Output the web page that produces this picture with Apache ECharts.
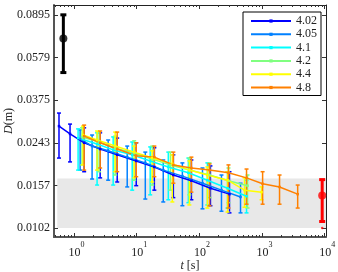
<!DOCTYPE html>
<html><head><meta charset="utf-8">
<script src="https://cdn.jsdelivr.net/npm/echarts@6/dist/echarts.min.js"></script>
<style>html,body{margin:0;padding:0;background:#fff}#c{width:338px;height:272px}</style>
</head><body><div id="c"></div>
<script>
// ---- data ----
const seriesNames = ['4.02', '4.05', '4.1', '4.2', '4.4', '4.8'];
const seriesColors = ['#0000ff', '#0080ff', '#00ffff', '#80ff80', '#ffff00', '#ff8000'];

const t_402  = [0.575, 0.863, 1.45, 2.61, 4.88, 9.82, 19.1, 38.4, 74.5, 150, 302];
const D_402  = [0.0288, 0.0266, 0.0243, 0.0228, 0.0215, 0.0202, 0.0190, 0.0175, 0.0165, 0.0153, 0.0144];
const lo_402 = [0.0208, 0.0200, 0.0181, 0.0170, 0.0163, 0.0157, 0.0150, 0.0139, 0.0136, 0.0128, 0.0119];
const hi_402 = [0.0329, 0.0294, 0.0283, 0.0269, 0.0255, 0.0243, 0.0231, 0.0215, 0.0204, 0.0192, 0.0181];

const t_405  = [1.25, 1.94, 3.50, 7.05, 13.7, 26.5, 53.5, 112, 225, 453];
const D_405  = [0.0253, 0.0235, 0.0224, 0.0210, 0.0198, 0.0184, 0.0173, 0.0161, 0.0150, 0.0140];
const lo_405 = [0.0184, 0.0168, 0.0166, 0.0155, 0.0137, 0.0133, 0.0128, 0.0124, 0.0121, 0.0119];
const hi_405 = [0.0277, 0.0263, 0.0250, 0.0235, 0.0221, 0.0204, 0.0198, 0.0188, 0.0175, 0.0161];

const t_41  = [1.16, 2.33, 4.21, 8.47, 16.4, 31.9, 66.7, 134, 281, 565];
const D_41  = [0.0255, 0.0240, 0.0226, 0.0215, 0.0202, 0.0190, 0.0179, 0.0166, 0.0153, 0.0141];
const lo_41 = [0.0184, 0.0158, 0.0158, 0.0150, 0.0143, 0.0136, 0.0132, 0.0129, 0.0125, 0.0119];
const hi_41 = [0.0280, 0.0269, 0.0258, 0.0245, 0.0233, 0.0221, 0.0208, 0.0198, 0.0181, 0.0166];

const t_42  = [1.34, 2.51, 4.53, 9.12, 17.7, 34.4, 69.2, 145, 291, 586];
const D_42  = [0.0258, 0.0245, 0.0230, 0.0219, 0.0206, 0.0194, 0.0184, 0.0175, 0.0165, 0.0157];
const lo_42 = [0.0194, 0.0181, 0.0175, 0.0166, 0.0158, 0.0150, 0.0143, 0.0139, 0.0132, 0.0125];
const hi_42 = [0.0283, 0.0271, 0.0260, 0.0248, 0.0235, 0.0221, 0.0208, 0.0198, 0.0188, 0.0175];

const t_44  = [1.39, 2.33, 4.53, 9.12, 17.7, 37.0, 69.2, 134, 281, 525, 982];
const D_44  = [0.0263, 0.0250, 0.0235, 0.0221, 0.0208, 0.0196, 0.0184, 0.0175, 0.0166, 0.0150, 0.0147];
const lo_44 = [0.0194, 0.0184, 0.0181, 0.0170, 0.0163, 0.0133, 0.0129, 0.0125, 0.0120, 0.0126, 0.0136];
const hi_44 = [0.0288, 0.0274, 0.0271, 0.0235, 0.0224, 0.0215, 0.0202, 0.0190, 0.0181, 0.0170, 0.0155];

const t_48  = [1.45, 2.61, 4.88, 9.82, 19.1, 38.4, 74.5, 145, 291, 565, 1020, 1900, 3700];
const D_48  = [0.0260, 0.0243, 0.0228, 0.0213, 0.0210, 0.0194, 0.0188, 0.0184, 0.0179, 0.0170, 0.0160, 0.0155, 0.0144];
const lo_48 = [0.0184, 0.0188, 0.0181, 0.0172, 0.0172, 0.0161, 0.0147, 0.0128, 0.0125, 0.0130, 0.0130, 0.0130, 0.0125];
const hi_48 = [0.0291, 0.0274, 0.0271, 0.0243, 0.0235, 0.0221, 0.0210, 0.0196, 0.0194, 0.0186, 0.0181, 0.0175, 0.0158];

// reference points (black: short-time, red: long-time)
const t_black = [0.675], D_black = [0.0703], lo_black = [0.0497], hi_black = [0.0895];
const t_red = [9100], D_red = [0.0142], lo_red = [0.0109], hi_red = [0.0167];
const t_redDot = [9100], D_redDot = [0.0102];

// shaded band
const band_t = [0.54, 10500];
const band_D = [0.0102, 0.0169];

// ticks
const xTickExp = [0, 1, 2, 3, 4];
const yTickLabels = ['0.0102', '0.0157', '0.0243', '0.0375', '0.0579', '0.0895'];

// ---- build ----
const L = Math.log10;
const F = 'Liberation Serif';
const TXT = '#222';
const groups = [
  [t_402, D_402, lo_402, hi_402],
  [t_405, D_405, lo_405, hi_405],
  [t_41, D_41, lo_41, hi_41],
  [t_42, D_42, lo_42, hi_42],
  [t_44, D_44, lo_44, hi_44],
  [t_48, D_48, lo_48, hi_48]
];
const xMin = -0.32, xMax = 4.02, yMin = -2.0312, yMax = -1.0047;
const yTickVals = yTickLabels.map(s => L(parseFloat(s)));
const xMinor = [];
for (let e = -1; e <= 3; e++) for (let k = 2; k <= 9; k++) {
  const v = L(k * Math.pow(10, e));
  if (v > xMin && v < xMax) xMinor.push(v);
}

function errRender(color, lw, capW) {
  return function (params, api) {
    const x = api.value(0);
    const p1 = api.coord([x, api.value(1)]);
    const p2 = api.coord([x, api.value(2)]);
    const st = { stroke: color, lineWidth: lw, fill: null };
    return {
      type: 'group', children: [
        { type: 'line', shape: { x1: p1[0], y1: p1[1], x2: p2[0], y2: p2[1] }, style: st },
        { type: 'line', shape: { x1: p1[0] - capW / 2, y1: p1[1], x2: p1[0] + capW / 2, y2: p1[1] }, style: st },
        { type: 'line', shape: { x1: p2[0] - capW / 2, y1: p2[1], x2: p2[0] + capW / 2, y2: p2[1] }, style: st }
      ]
    };
  };
}
function errSeries(ts, los, his, color, lw, capW, z) {
  return {
    type: 'custom', silent: true, z: z || 2,
    renderItem: errRender(color, lw, capW),
    encode: { x: 0, y: [1, 2] },
    data: ts.map((t, i) => [L(t), L(los[i]), L(his[i])])
  };
}

const series = [];
// band + black point
series.push(Object.assign(errSeries(t_black, lo_black, hi_black, '#000', 3, 6, 3), {
  markArea: {
    silent: true,
    itemStyle: { color: '#e8e8e8' },
    data: [[{ coord: [L(band_t[0]), L(band_D[0])] }, { coord: [L(band_t[1]), L(band_D[1])] }]]
  }
}));
series.push({ type: 'scatter', silent: true, z: 3, symbol: 'circle', symbolSize: 8,
  itemStyle: { color: '#000' }, data: t_black.map((t, i) => [L(t), L(D_black[i])]) });

groups.forEach((g, si) => {
  const [ts, ds, los, his] = g;
  series.push(errSeries(ts, los, his, seriesColors[si], 1.5, 4));
  series.push({
    name: seriesNames[si], type: 'line', silent: true,
    symbol: 'rect', symbolSize: 2.5,
    lineStyle: { color: seriesColors[si], width: 1.5 },
    itemStyle: { color: seriesColors[si] },
    data: ts.map((t, i) => [L(t), L(ds[i])])
  });
});

series.push(errSeries(t_red, lo_red, hi_red, '#ff0000', 3, 6, 3));
series.push({ type: 'scatter', silent: true, z: 3, symbol: 'circle', symbolSize: 8,
  itemStyle: { color: '#ff0000' }, data: t_red.map((t, i) => [L(t), L(D_red[i])]) });
series.push({ type: 'scatter', silent: true, z: 3, symbol: 'circle', symbolSize: 2.5,
  itemStyle: { color: '#ff0000' }, data: t_redDot.map((t, i) => [L(t), L(D_redDot[i])]) });

const baseX = { type: 'value', min: xMin, max: xMax, splitLine: { show: false } };
const baseY = { type: 'value', min: yMin, max: yMax, splitLine: { show: false } };

const option = {
  animation: false,
  backgroundColor: '#fff',
  grid: { left: 54, right: 12, top: 5, bottom: 35, outerBoundsMode: 'none', containLabel: false },
  legend: {
    data: seriesNames, orient: 'vertical', left: 243, top: 12,
    itemWidth: 40, itemHeight: 4, itemGap: 1.3,
    padding: [3, 4, 2, 7],
    borderColor: '#000', borderWidth: 1, backgroundColor: '#fff',
    textStyle: { fontFamily: F, fontSize: 12, color: TXT, lineHeight: 12 }
  },
  xAxis: [
    Object.assign({}, baseX, {
      position: 'bottom',
      axisLine: { show: true, onZero: false, lineStyle: { color: '#555', width: 2 } },
      axisTick: { show: true, inside: true, length: 4, customValues: xTickExp, lineStyle: { color: '#333' } },
      axisLabel: {
        customValues: xTickExp, margin: 4,
        formatter: v => '{b|10}{s|' + Math.round(v) + '}',
        rich: {
          b: { fontFamily: F, fontSize: 12, color: TXT, padding: [0, 0, 0, 5] },
          s: { fontFamily: F, fontSize: 8, color: TXT, padding: [0, 0, 15, 0] }
        }
      },
      name: '{i|t} [s]', nameLocation: 'middle', nameGap: 23, nameMoveOverlap: false,
      nameTextStyle: { fontFamily: F, fontSize: 12, color: TXT,
        rich: { i: { fontFamily: F, fontSize: 12, fontStyle: 'italic', color: TXT } } }
    }),
    Object.assign({}, baseX, {
      position: 'bottom', axisLine: { show: false, onZero: false },
      axisTick: { show: true, inside: true, length: 2, customValues: xMinor, lineStyle: { color: '#333' } },
      axisLabel: { show: false }
    }),
    Object.assign({}, baseX, {
      position: 'top',
      axisLine: { show: true, onZero: false, lineStyle: { color: '#222', width: 1 } },
      axisTick: { show: true, inside: true, length: 4, customValues: xTickExp, lineStyle: { color: '#333' } },
      axisLabel: { show: false }
    }),
    Object.assign({}, baseX, {
      position: 'top', axisLine: { show: false, onZero: false },
      axisTick: { show: true, inside: true, length: 2, customValues: xMinor, lineStyle: { color: '#333' } },
      axisLabel: { show: false }
    })
  ],
  yAxis: [
    Object.assign({}, baseY, {
      position: 'left',
      axisLine: { show: true, onZero: false, lineStyle: { color: '#555', width: 2 } },
      axisTick: { show: true, inside: true, length: 4, customValues: yTickVals, lineStyle: { color: '#333' } },
      axisLabel: {
        customValues: yTickVals, margin: 4, fontFamily: F, fontSize: 12, color: TXT,
        formatter: v => {
          let bi = 0;
          yTickVals.forEach((tv, i) => { if (Math.abs(tv - v) < Math.abs(yTickVals[bi] - v)) bi = i; });
          return yTickLabels[bi];
        }
      },
      name: '{i|D}(m)', nameLocation: 'middle', nameGap: 39, nameMoveOverlap: false,
      nameTextStyle: { fontFamily: F, fontSize: 12, color: TXT,
        rich: { i: { fontFamily: F, fontSize: 12, fontStyle: 'italic', color: TXT } } }
    }),
    Object.assign({}, baseY, {
      position: 'right',
      axisLine: { show: true, onZero: false, lineStyle: { color: '#222', width: 1 } },
      axisTick: { show: true, inside: true, length: 4, customValues: yTickVals, lineStyle: { color: '#333' } },
      axisLabel: { show: false }
    })
  ],
  series: series
};
const chart = echarts.init(document.getElementById('c'), null, { renderer: 'canvas' });
chart.setOption(option);
</script>
</body></html>
